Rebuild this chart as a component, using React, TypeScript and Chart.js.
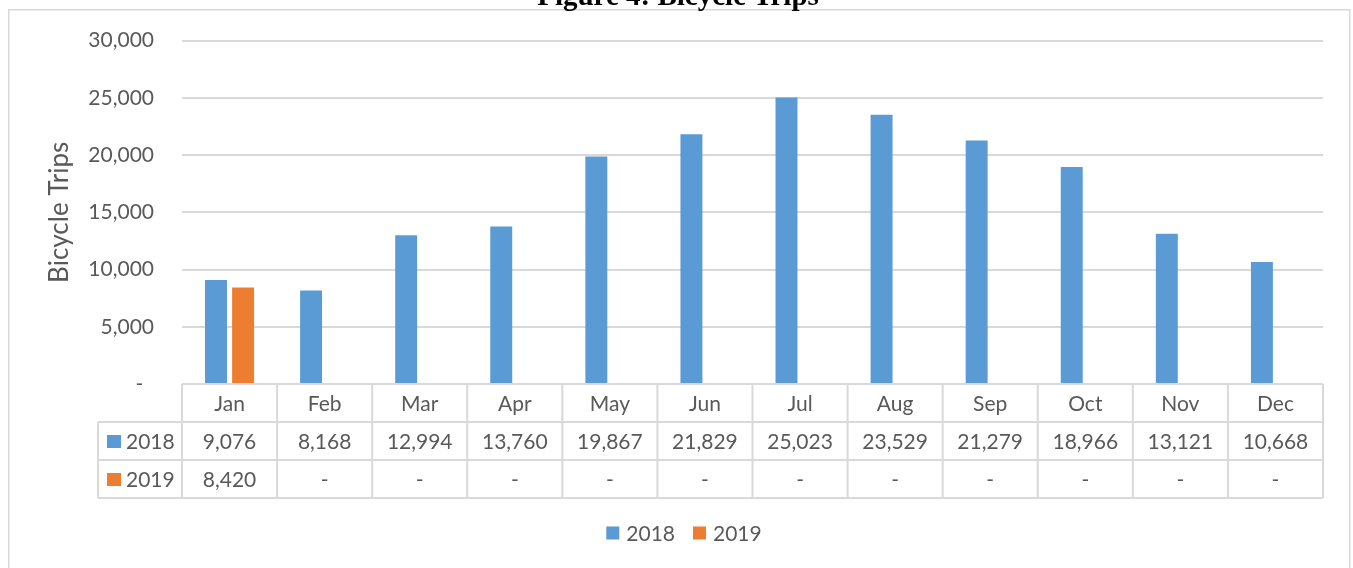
import React, { useEffect, useRef } from "react";
import { Chart, registerables } from "chart.js";

Chart.register(...registerables);

const months = ["Jan", "Feb", "Mar", "Apr", "May", "Jun", "Jul", "Aug", "Sep", "Oct", "Nov", "Dec"];
const series2018 = [9076, 8168, 12994, 13760, 19867, 21829, 25023, 23529, 21279, 18966, 13121, 10668];
const series2019: (number | null)[] = [8420, null, null, null, null, null, null, null, null, null, null, null];
const seriesNames = ["2018", "2019"];
const seriesColors = ["#5B9BD5", "#ED7D31"];
const yTicks = [0, 5000, 10000, 15000, 20000, 25000, 30000];
const titleText = "Figure 4: Bicycle Trips";
const yTitle = "Bicycle Trips";

const FONT = "Lato";
const TEXT = "#595959";
const LINE = "#D9D9D9";

const fmt = (v: number | null) => (v === null || v === undefined ? "-" : v.toLocaleString("en-US"));

const decorPlugin = {
  id: "decor",
  beforeDraw(chart: any) {
    const ctx = chart.ctx;
    ctx.save();
    ctx.fillStyle = "#FFFFFF";
    ctx.fillRect(0, 0, chart.width, chart.height);
    ctx.strokeStyle = LINE;
    ctx.lineWidth = 1.5;
    ctx.strokeRect(8.75, 9.75, 1341, 600);
    // title
    ctx.fillStyle = "#000000";
    ctx.font = `bold 29px "Liberation Serif"`;
    ctx.textAlign = "center";
    ctx.textBaseline = "alphabetic";
    ctx.fillText(titleText, 678, 5);
    ctx.restore();
  },
  afterDraw(chart: any) {
    const ctx = chart.ctx;
    const xs = chart.scales.x;
    const area = chart.chartArea;
    const n = months.length;
    const colW = (area.right - area.left) / n;
    const rowTop = area.bottom;
    const rowH = 38;
    const labelLeft = 98;
    const rows = [rowTop, rowTop + rowH, rowTop + rowH * 2, rowTop + rowH * 3];
    ctx.save();
    ctx.strokeStyle = LINE;
    ctx.lineWidth = 2;
    ctx.beginPath();
    ctx.moveTo(area.left, rows[0]);
    ctx.lineTo(area.right, rows[0]);
    for (let r = 1; r < 4; r++) {
      ctx.moveTo(labelLeft, rows[r]);
      ctx.lineTo(area.right, rows[r]);
    }
    for (let k = 0; k <= n; k++) {
      const x = area.left + k * colW;
      ctx.moveTo(x, rows[0]);
      ctx.lineTo(x, rows[3]);
    }
    ctx.moveTo(labelLeft, rows[1]);
    ctx.lineTo(labelLeft, rows[3]);
    ctx.stroke();

    ctx.fillStyle = TEXT;
    ctx.font = `21px ${FONT}`;
    ctx.textAlign = "center";
    ctx.textBaseline = "middle";
    const data = [series2018, series2019];
    for (let i = 0; i < n; i++) {
      const cx = xs.getPixelForValue(i);
      ctx.fillText(months[i], cx, (rows[0] + rows[1]) / 2 + 1);
      for (let s = 0; s < 2; s++) {
        ctx.fillText(fmt(data[s][i] as any), cx, (rows[s + 1] + rows[s + 2]) / 2 + 1);
      }
    }
    // row labels
    for (let s = 0; s < 2; s++) {
      const cy = (rows[s + 1] + rows[s + 2]) / 2;
      ctx.fillStyle = seriesColors[s];
      ctx.fillRect(107, cy - 6, 14, 13);
      ctx.fillStyle = TEXT;
      ctx.textAlign = "left";
      ctx.fillText(seriesNames[s], 126, cy + 1);
    }
    // bottom legend
    ctx.font = `21px ${FONT}`;
    const box = 13;
    const gap = 7;
    const itemGap = 18;
    const widths = seriesNames.map((t) => box + gap + ctx.measureText(t).width);
    const total = widths.reduce((a, b) => a + b, 0) + itemGap * (widths.length - 1);
    let x = 684 - total / 2;
    const ly = 533;
    for (let s = 0; s < seriesNames.length; s++) {
      ctx.fillStyle = seriesColors[s];
      ctx.fillRect(x, ly - 6.5, box, box);
      ctx.fillStyle = TEXT;
      ctx.textAlign = "left";
      ctx.fillText(seriesNames[s], x + box + gap, ly + 1);
      x += widths[s] + itemGap;
    }
    ctx.restore();
  },
};

export default function App() {
  const ref = useRef<HTMLCanvasElement | null>(null);
  useEffect(() => {
    if (!ref.current) return;
    const chart = new Chart(ref.current, {
      type: "bar",
      data: {
        labels: months,
        datasets: [
          {
            label: seriesNames[0],
            data: series2018,
            backgroundColor: seriesColors[0],
            categoryPercentage: 0.57,
            barPercentage: 0.81,
          },
          {
            label: seriesNames[1],
            data: series2019 as any,
            backgroundColor: seriesColors[1],
            categoryPercentage: 0.57,
            barPercentage: 0.81,
          },
        ],
      },
      options: {
        responsive: false,
        animation: false,
        layout: { padding: { top: 39, right: 30, left: 0, bottom: 0 } },
        plugins: {
          legend: { display: false },
          tooltip: { enabled: false },
          title: { display: false },
        },
        scales: {
          x: {
            display: true,
            grid: { display: false },
            border: { display: false },
            ticks: { display: false },
            afterFit: (s: any) => {
              s.height = 568 - 384;
            },
          },
          y: {
            min: 0,
            max: 30000,
            afterBuildTicks: (s: any) => {
              s.ticks = yTicks.map((v) => ({ value: v }));
            },
            afterFit: (s: any) => {
              s.width = 182;
            },
            border: { display: false },
            grid: { color: LINE, lineWidth: 2, drawTicks: false },
            ticks: {
              color: TEXT,
              font: { family: FONT, size: 21 },
              padding: 28,
              callback: (v: any) => (Number(v) === 0 ? "-  " : Number(v).toLocaleString("en-US")),
            },
            title: {
              display: true,
              text: yTitle,
              color: TEXT,
              font: { family: FONT, size: 26 },
              padding: { top: 44, bottom: 0 },
            },
          },
        },
      },
      plugins: [decorPlugin],
    });
    return () => chart.destroy();
  }, []);
  return (
    <canvas
      ref={ref}
      width={1353}
      height={568}
      style={{ position: "absolute", left: 0, top: 0, display: "block" }}
    />
  );
}
